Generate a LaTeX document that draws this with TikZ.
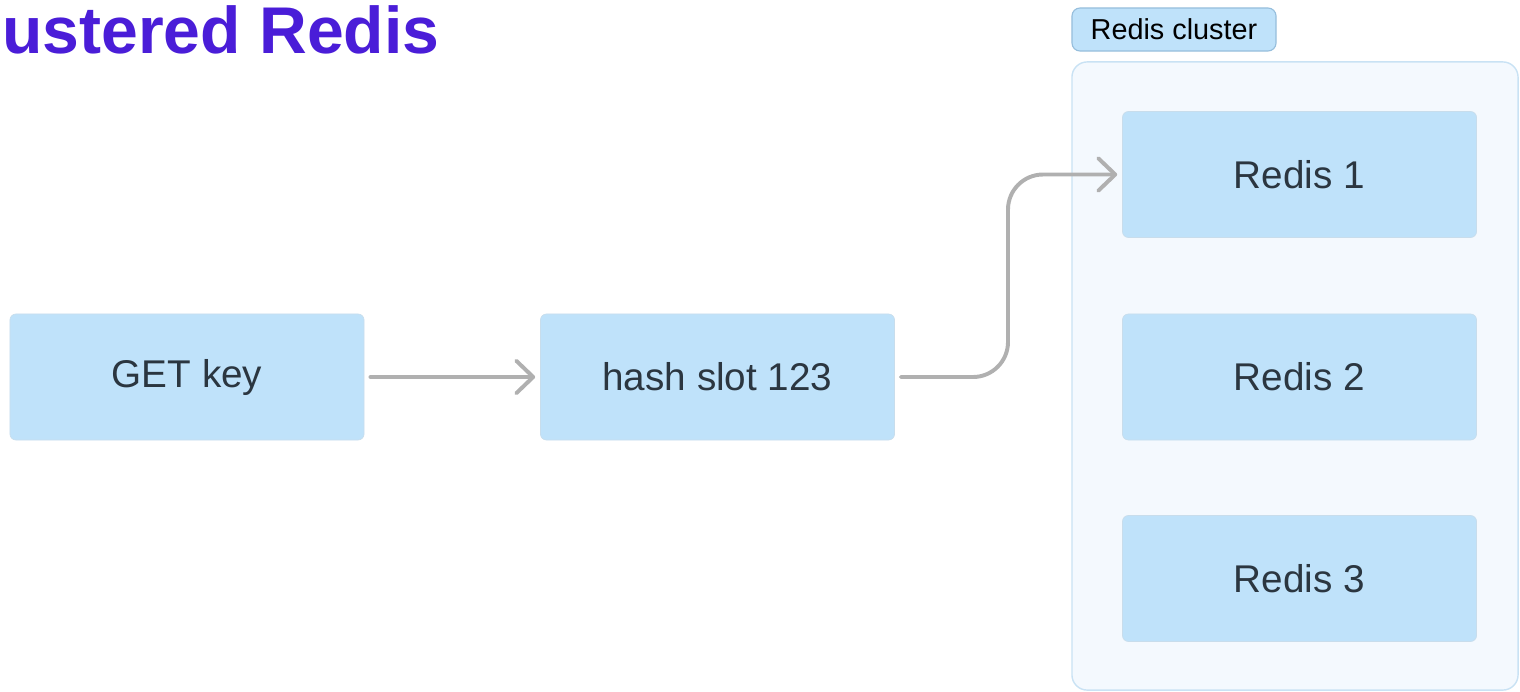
\documentclass[tikz,border=0pt]{standalone}
\usepackage{fontspec}
\setmainfont{Liberation Sans}
\usetikzlibrary{arrows.meta}
\definecolor{boxfill}{RGB}{191,226,250}
\definecolor{boxline}{RGB}{200,221,236}
\definecolor{clfill}{RGB}{244,249,254}
\definecolor{clline}{RGB}{201,226,244}
\definecolor{lblline}{RGB}{150,190,220}
\definecolor{txt}{RGB}{43,54,64}
\definecolor{arr}{RGB}{176,176,176}
\definecolor{titlec}{RGB}{74,29,216}
\tikzset{
  box/.style={draw=boxline, line width=0.5pt, fill=boxfill, rounded corners=0.15cm,
    minimum width=8.85cm, minimum height=3.15cm, inner sep=0pt,
    text=txt, font=\fontsize{27.5}{30}\selectfont},
  conn/.style={draw=arr, line width=2.8pt, line cap=round,
    -{Straight Barb[length=12pt,width=23pt,round]},
    shorten <=4.3pt, shorten >=3.5pt},
}
\begin{document}
\begin{tikzpicture}[x=0.025cm,y=-0.025cm]
\useasboundingbox (0,0) rectangle (1520,691);
% title
\node[anchor=base west, inner sep=0pt, text=titlec,
  font=\fontsize{47}{50}\selectfont\bfseries] (title) at (2,53) {ustered Redis};
% cluster container
\node[draw=clline, line width=1pt, fill=clfill, rounded corners=0.38cm,
  minimum width=11.15cm, minimum height=15.7cm, inner sep=0pt] (cluster) at (1295,376) {};
\node[draw=lblline, line width=0.8pt, fill=boxfill, rounded corners=0.2cm,
  minimum width=5.1cm, minimum height=1.075cm, inner sep=0pt,
  font=\fontsize{20.5}{24}\selectfont, text=black] (lbl) at (1174,29.5) {\raisebox{-2.5pt}{Redis cluster}};
% nodes
\node[box] (get) at (187,377) {\raisebox{-2pt}{GET key}};
\node[box] (hash) at (717.5,377) {\raisebox{-2pt}{hash slot 123}};
\node[box] (r1) at (1299.5,174.5) {\raisebox{-2pt}{Redis 1}};
\node[box] (r2) at (1299.5,377) {\raisebox{-2pt}{Redis 2}};
\node[box] (r3) at (1299.5,578.5) {\raisebox{-2pt}{Redis 3}};
% connectors
\coordinate (bend) at (1008,276);
\draw[conn] (get) -- (hash);
\draw[conn, rounded corners=0.875cm] (hash.east) -| (bend) |- (r1.west);
\end{tikzpicture}
\end{document}
